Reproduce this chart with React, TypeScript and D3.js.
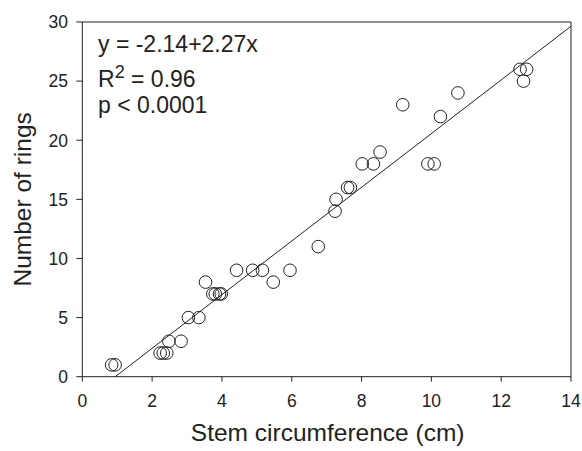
import React from "react";
import * as d3 from "d3";

const stemCircumference = [
  0.84, 0.94, 2.23, 2.32, 2.42, 2.48, 2.83, 3.04, 3.34, 3.53, 3.74, 3.81, 3.93, 3.98,
  4.42, 4.88, 5.16, 5.47, 5.95, 6.76, 7.24, 7.27, 7.60, 7.68, 8.02, 8.34, 8.53, 9.18,
  9.90, 10.08, 10.26, 10.76, 12.54, 12.73, 12.64,
];
const numberOfRings = [
  1, 1, 2, 2, 2, 3, 3, 5, 5, 8, 7, 7, 7, 7,
  9, 9, 9, 8, 9, 11, 14, 15, 16, 16, 18, 18, 19, 23,
  18, 18, 22, 24, 26, 26, 25,
];
const intercept = -2.14;
const slope = 2.27;
const xTicks = [0, 2, 4, 6, 8, 10, 12, 14];
const yTicks = [0, 5, 10, 15, 20, 25, 30];

const FONT = "Arial, 'Liberation Sans', Helvetica, sans-serif";

export default function App() {
  const W = 582, H = 451;
  const x = d3.scaleLinear().domain([0, 14]).range([82.3, 571]);
  const y = d3.scaleLinear().domain([0, 30]).range([376.7, 22]);
  const x0 = -intercept / slope;
  const lineData: [number, number][] = [
    [x0, 0],
    [14, intercept + slope * 14],
  ];
  const line = d3.line<[number, number]>().x(d => x(d[0])).y(d => y(d[1]));
  const stroke = "#222";
  return (
    <svg width={W} height={H} style={{ position: "absolute", left: 0, top: 0, background: "#fff" }}
      fontFamily={FONT}>
      <rect x={0} y={0} width={W} height={H} fill="#fff" />
      {/* frame */}
      <line x1={x(0)} x2={x(14)} y1={y(30)} y2={y(30)} stroke={stroke} strokeWidth={1} />
      <line x1={x(14)} x2={x(14)} y1={y(30)} y2={y(0)} stroke={stroke} strokeWidth={1} />
      {/* axes */}
      <line x1={x(0)} x2={x(14)} y1={y(0)} y2={y(0)} stroke={stroke} strokeWidth={1} />
      <line x1={x(0)} x2={x(0)} y1={y(0)} y2={y(30)} stroke={stroke} strokeWidth={1} />
      {xTicks.map(t => (
        <g key={"xt" + t}>
          <line x1={x(t)} x2={x(t)} y1={y(0)} y2={y(0) + 5} stroke={stroke} />
          <text x={x(t)} y={407} textAnchor="middle" fontSize={17.5} fill="#222">{t}</text>
        </g>
      ))}
      {yTicks.map(t => (
        <g key={"yt" + t}>
          <line x1={x(0) - 6} x2={x(0)} y1={y(t)} y2={y(t)} stroke={stroke} />
          <text x={68} y={y(t) + 6.3} textAnchor="end" fontSize={17.5} fill="#222">{t}</text>
        </g>
      ))}
      {/* regression line */}
      <path d={line(lineData) || ""} fill="none" stroke={stroke} strokeWidth={1} />
      {/* points */}
      {stemCircumference.map((v, i) => (
        <circle key={i} cx={x(v)} cy={y(numberOfRings[i])} r={6.3} fill="none" stroke={stroke} strokeWidth={1} />
      ))}
      {/* annotation */}
      <text x={98} y={51.5} fontSize={23} fill="#222">y = -2.14+2.27x</text>
      <text x={98} y={87} fontSize={23} fill="#222">
        R<tspan dy={-9} fontSize={18}>2</tspan><tspan dy={9}> = 0.96</tspan>
      </text>
      <text x={98} y={113} fontSize={23} fill="#222">p &lt; 0.0001</text>
      {/* axis titles */}
      <text x={(x(0) + x(14)) / 2 + 1} y={441} textAnchor="middle" fontSize={24.5} fill="#222">Stem circumference (cm)</text>
      <text transform={`translate(31,${(y(0) + y(30)) / 2}) rotate(-90)`} textAnchor="middle" fontSize={24.5} fill="#222">Number of rings</text>
    </svg>
  );
}
